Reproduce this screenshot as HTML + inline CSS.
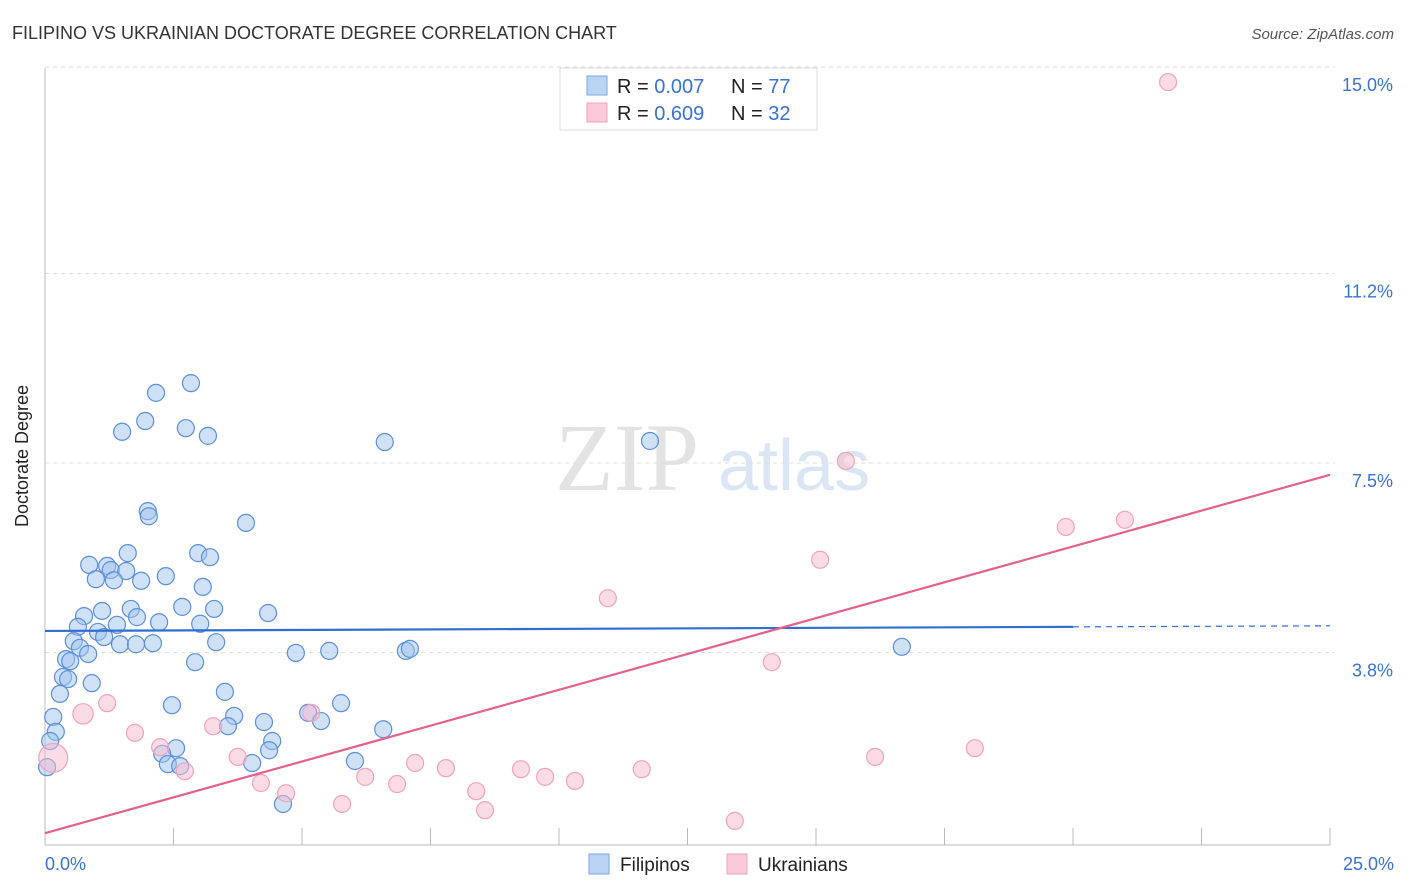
<!DOCTYPE html>
<html><head><meta charset="utf-8">
<style>
body{margin:0;background:#fff;font-family:"Liberation Sans",sans-serif;}
svg{display:block}
</style></head>
<body>
<svg id="chart" width="1406" height="892" xmlns="http://www.w3.org/2000/svg">
<text x="12" y="39" font-size="18" fill="#333">FILIPINO VS UKRAINIAN DOCTORATE DEGREE CORRELATION CHART</text>
<text x="1394" y="39" font-size="15" fill="#555" font-style="italic" text-anchor="end">Source: ZipAtlas.com</text>
<g>
<text x="555" y="490" font-family="Liberation Serif,serif" font-size="96" fill="#e3e3e3">ZIP</text>
<text x="718" y="490" font-size="72" fill="#dbe6f5">atlas</text>
</g>
<g id="grid"></g>
<g id="axes"></g>
<g id="pts"></g>
<g id="trends"></g>
<text x="28" y="456" font-size="18" fill="#222" text-anchor="middle" transform="rotate(-90 28 456)">Doctorate Degree</text>
<g>
<rect x="560" y="68" width="257" height="62" fill="#fff" stroke="#ddd"/>
<rect x="587" y="76" width="20" height="19" fill="#bcd4f4" stroke="#7aa7e0"/>
<rect x="587" y="103" width="20" height="19" fill="#fbcad8" stroke="#f0a0b8"/>
<text x="617" y="93" font-size="20" fill="#222">R = <tspan fill="#3a72d0">0.007</tspan><tspan x="731">N = </tspan><tspan fill="#3a72d0">77</tspan></text>
<text x="617" y="120" font-size="20" fill="#222">R = <tspan fill="#3a72d0">0.609</tspan><tspan x="731">N = </tspan><tspan fill="#3a72d0">32</tspan></text>
</g>
<g>
<rect x="589" y="854" width="20" height="20" fill="#bcd4f4" stroke="#7aa7e0"/>
<text x="620" y="871" font-size="19" fill="#222">Filipinos</text>
<rect x="727" y="854" width="20" height="20" fill="#fbcad8" stroke="#f0a0b8"/>
<text x="758" y="871" font-size="19" fill="#222">Ukrainians</text>
</g>
</svg>
<script>
const yTicks=[3.8,7.5,11.2,15.0];
const yTickLabels=["3.8%","7.5%","11.2%","15.0%"];
const xTickCount=10;
const xLabels=["0.0%","25.0%"];
const filX=[2.84,2.16,1.95,1.50,2.74,3.17,6.61,11.77,2.00,2.02,3.91,1.61,2.98,3.21,0.86,1.21,1.28,1.58,0.99,1.34,1.87,2.35,3.07,2.67,1.67,1.11,3.29,4.34,0.76,1.79,2.22,1.40,3.02,0.64,1.03,1.15,0.56,1.46,1.77,2.10,3.33,0.68,0.84,0.41,0.49,4.88,5.53,7.02,7.10,16.67,2.92,0.91,0.35,0.45,0.29,3.50,2.47,5.76,5.12,3.68,0.16,4.26,5.37,0.21,3.56,6.58,4.42,4.36,0.10,2.55,2.28,6.03,2.39,2.63,4.03,0.04,4.63];
const filY=[9.06,8.87,8.32,8.11,8.18,8.03,7.91,7.93,6.56,6.46,6.33,5.74,5.74,5.66,5.51,5.49,5.41,5.39,5.23,5.21,5.20,5.29,5.08,4.69,4.65,4.61,4.65,4.57,4.51,4.49,4.39,4.34,4.36,4.30,4.20,4.10,4.02,3.96,3.96,3.98,4.00,3.89,3.77,3.67,3.63,3.79,3.83,3.83,3.87,3.91,3.61,3.20,3.32,3.28,2.99,3.03,2.77,2.81,2.62,2.56,2.54,2.44,2.46,2.25,2.36,2.30,2.07,1.89,2.07,1.93,1.82,1.68,1.62,1.58,1.64,1.56,0.84];
const ukrX=[21.85,15.58,19.86,21.01,15.08,10.95,14.14,1.21,0.74,0.16,5.18,3.27,1.75,2.24,3.75,2.72,7.20,7.80,9.26,9.73,10.31,6.23,6.85,8.39,4.20,4.69,5.78,8.56,11.61,16.15,18.09,13.42];
const ukrY=[14.94,7.54,6.25,6.39,5.61,4.86,3.61,2.81,2.60,1.74,2.62,2.36,2.23,1.95,1.76,1.48,1.64,1.54,1.52,1.37,1.29,1.37,1.23,1.09,1.25,1.05,0.84,0.72,1.52,1.76,1.93,0.51];
const ukrSize=[1,1,1,1,1,1,1,1,1.2,1.7,1,1,1,1,1,1,1,1,1,1,1,1,1,1,1,1,1,1,1,1,1,1];
const filTrend=[4.22,0.004]; // intercept, slope
const ukrTrend=[0.27,0.28];

const NS="http://www.w3.org/2000/svg";
const X0=45,X1=1330,Y0=847,PY=192/3.75;
const sx=v=>X0+(X1-X0)*v/25;
const sy=v=>Y0-v*PY;
function mk(tag,attrs,parent){const e=document.createElementNS(NS,tag);for(const k in attrs)e.setAttribute(k,attrs[k]);parent.appendChild(e);return e;}
const grid=document.getElementById('grid'),axes=document.getElementById('axes'),pts=document.getElementById('pts'),tr=document.getElementById('trends');
yTicks.forEach((t,i)=>{
 const gy=sy(t)-(i==3?12:0);
 const l=mk('line',{x1:X0,x2:X1+5,y1:gy,y2:gy,stroke:'#ddd','stroke-dasharray':'4,4'},grid);
 
 
 const tx=mk('text',{x:1393,y:gy+24,'font-size':18,fill:'#3a72d0','text-anchor':'end'},axes);
 tx.textContent=yTickLabels[i];
 
 
});
const ya=mk('line',{x1:X0,x2:X0,y1:68,y2:845,stroke:'#bbb'},axes);


const xa=mk('line',{x1:X0,x2:X1,y1:845,y2:845,stroke:'#bbb'},axes);


for(let i=0;i<=xTickCount;i++){
 const x=sx(25*i/xTickCount);
 const t=mk('line',{x1:x,x2:x,y1:828,y2:845,stroke:'#bbb'},axes);
 
 
}
[[45,'start'],[1394,'end']].forEach((p,i)=>{
 const t=mk('text',{x:p[0],y:870,'font-size':18,fill:'#3a72d0','text-anchor':p[1]},axes);
 t.textContent=xLabels[i];
 
 
});
filX.forEach((v,i)=>{
 const c=mk('circle',{cx:sx(v),cy:sy(filY[i]),r:8.5,fill:'rgba(160,196,240,0.5)',stroke:'#5b8fd9','stroke-width':1.2},pts);
 
 
});
ukrX.forEach((v,i)=>{
 const c=mk('circle',{cx:sx(v),cy:sy(ukrY[i]),r:8.5*ukrSize[i],fill:'rgba(248,185,205,0.5)',stroke:'#f0a3bb','stroke-width':1.2},pts);
 
 
});
const fa=mk('line',{x1:sx(0),y1:sy(filTrend[0]),x2:sx(20),y2:sy(filTrend[0]+filTrend[1]*20),stroke:'#2f6fd2','stroke-width':2.2},tr);


const fb=mk('line',{x1:sx(20),y1:sy(filTrend[0]+filTrend[1]*20),x2:sx(25),y2:sy(filTrend[0]+filTrend[1]*25),stroke:'#2f6fd2','stroke-width':1.2,'stroke-dasharray':'6,5'},tr);


const ul=mk('line',{x1:sx(0),y1:sy(ukrTrend[0]),x2:sx(25),y2:sy(ukrTrend[0]+ukrTrend[1]*25),stroke:'#e5608a','stroke-width':2.2},tr);


</script>
</body></html>
